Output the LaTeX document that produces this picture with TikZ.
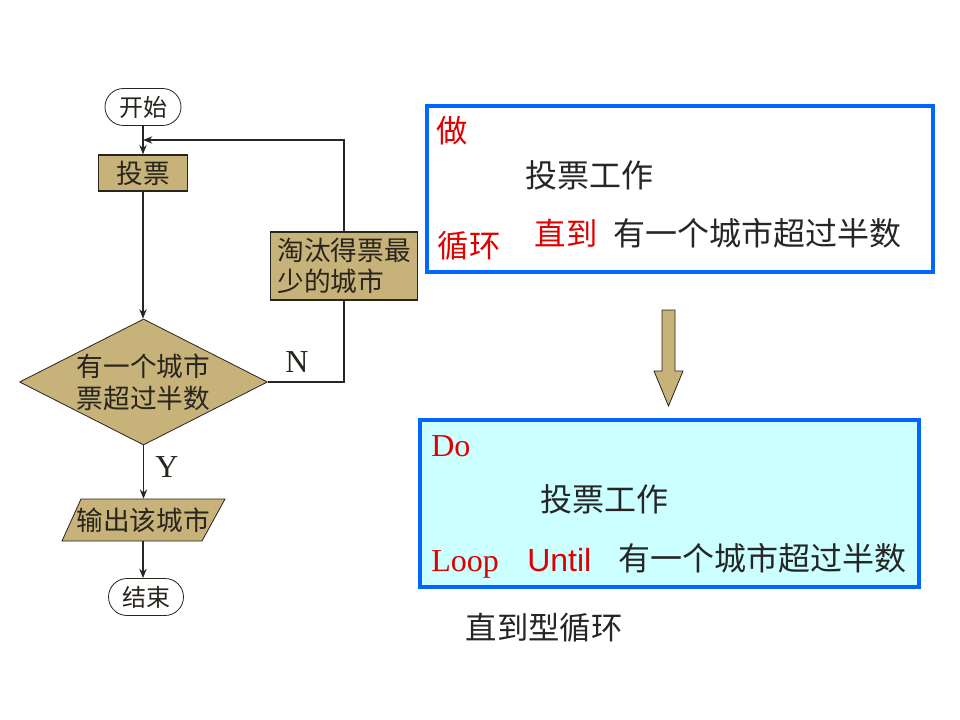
\documentclass[tikz,border=0pt]{standalone}
\usepackage{fontspec}
\setmainfont{Liberation Serif}
\newfontfamily\cjk{Noto Sans CJK SC}
\newfontfamily\sansf{Liberation Sans}
\usetikzlibrary{shapes.geometric,shapes.misc,arrows.meta}
\definecolor{tanfill}{RGB}{199,178,122}
\definecolor{bblue}{RGB}{0,102,255}
\definecolor{lcyan}{RGB}{204,255,255}
\definecolor{rred}{RGB}{225,0,0}
\definecolor{ink}{RGB}{40,36,30}
\begin{document}
\begin{tikzpicture}[x=0.75pt,y=-0.75pt,
  term/.style={rounded rectangle, draw=ink, line width=0.6pt, fill=white, inner sep=0,
    minimum width=57pt, minimum height=27.75pt, text=ink, font=\cjk\fontsize{18}{20}\selectfont},
  proc/.style={rectangle, draw=ink, line width=0.9pt, fill=tanfill, inner sep=0, text=ink,
    font=\cjk\fontsize{20}{23.5}\selectfont},
  dia/.style={diamond, draw=ink, line width=0.6pt, fill=tanfill, inner sep=0,
    minimum width=186pt, minimum height=94.5pt},
  ftext/.style={inner sep=0, text=ink, font=\cjk\fontsize{20}{24}\selectfont},
  flow/.style={draw=ink, line width=0.9pt, -{Stealth[length=7pt,width=5.5pt]}},
  plain/.style={draw=ink, line width=0.9pt},
  lbl/.style={inner sep=0, text=ink, font=\fontsize{24}{26}\selectfont},
  bbox/.style={rectangle, draw=bblue, line width=3pt, inner sep=0},
  rtext/.style={inner sep=0, text=rred, font=\cjk\fontsize{23.5}{26}\selectfont},
  btext/.style={inner sep=0, text=black!85, font=\cjk\fontsize{24}{26}\selectfont},
  rlat/.style={inner sep=0, text=rred, font=\fontsize{24}{26}\selectfont},
  rsans/.style={inner sep=0, text=rred, font=\sansf\fontsize{24}{26}\selectfont}
]
\useasboundingbox (0,0) rectangle (960,720);
\fill[white] (0,0) rectangle (960,720);

% ---------------- flowchart ----------------
\node[term] (start) at (143,107) {开始};
\node[proc, minimum width=66.75pt, minimum height=27pt] (vote) at (143,173) {投票};
\node[dia] (dec) at (143.5,382) {};
\node[ftext, align=center] (dectext) at (dec) {有一个城市\\票超过半数};
\node[proc, minimum width=110.25pt, minimum height=51pt, align=left] (elim) at (344,266) {淘汰得票最\\少的城市};
\fill[tanfill] (81,499) -- (225,499) -- (202,541) -- (62,541) -- cycle;
\draw[ink, line width=0.6pt] (81,499) -- (225,499) -- (202,541) -- (62,541) -- cycle;
\node[ftext, minimum height=31.5pt] (outn) at (143,520) {输出该城市};
\node[term, minimum width=56.25pt] (endn) at (146,597) {结束};

\coordinate (join) at (143,140);
\draw[flow] (start.south) -- (start.south |- vote.north);
\draw[flow] (vote.south) -- (vote.south |- dec.north);
\draw[plain] (dec.east) -| (elim.south);
\draw[flow] (elim.north) |- (join);
\draw[flow] (dec.south) -- (dec.south |- outn.north);
\draw[flow] (outn.south) -- (outn.south |- endn.north);
\node[lbl] (nlab) at (297,362) {N};
\node[lbl] (ylab) at (167,467) {Y};

% ---------------- upper box ----------------
\node[bbox, fill=white, minimum width=379.5pt, minimum height=124.5pt] (box1) at (680,189) {};
\node[rtext] (zuo) at (452,131) {做};
\node[btext] (work1) at (589.5,175) {投票工作};
\node[rtext] (xunhuan) at (469,246) {循环};
\node[rtext] (zhidao) at (566,233) {直到};
\node[btext] (cond1) at (757.5,233) {有一个城市超过半数};

% ---------------- big arrow ----------------
\draw[ink, line width=0.6pt, fill=tanfill]
  (662,310) -- (675,310) -- (675,371) -- (683,371) -- (668.5,406) -- (654,371) -- (662,371) -- cycle;

% ---------------- lower box ----------------
\node[bbox, fill=lcyan, minimum width=374.25pt, minimum height=125.25pt] (box2) at (669.5,503.5) {};
\node[rlat, anchor=base west] (do) at (431,456) {Do};
\node[btext] (work2) at (604,499) {投票工作};
\node[rlat, anchor=base west] (loop) at (431,571) {Loop};
\node[rsans, anchor=base west] (until) at (527,571) {Until};
\node[btext] (cond2) at (762.5,558) {有一个城市超过半数};

\node[btext, font=\cjk\fontsize{23.5}{26}\selectfont] (caption) at (544,628) {直到型循环};
\end{tikzpicture}
\end{document}
